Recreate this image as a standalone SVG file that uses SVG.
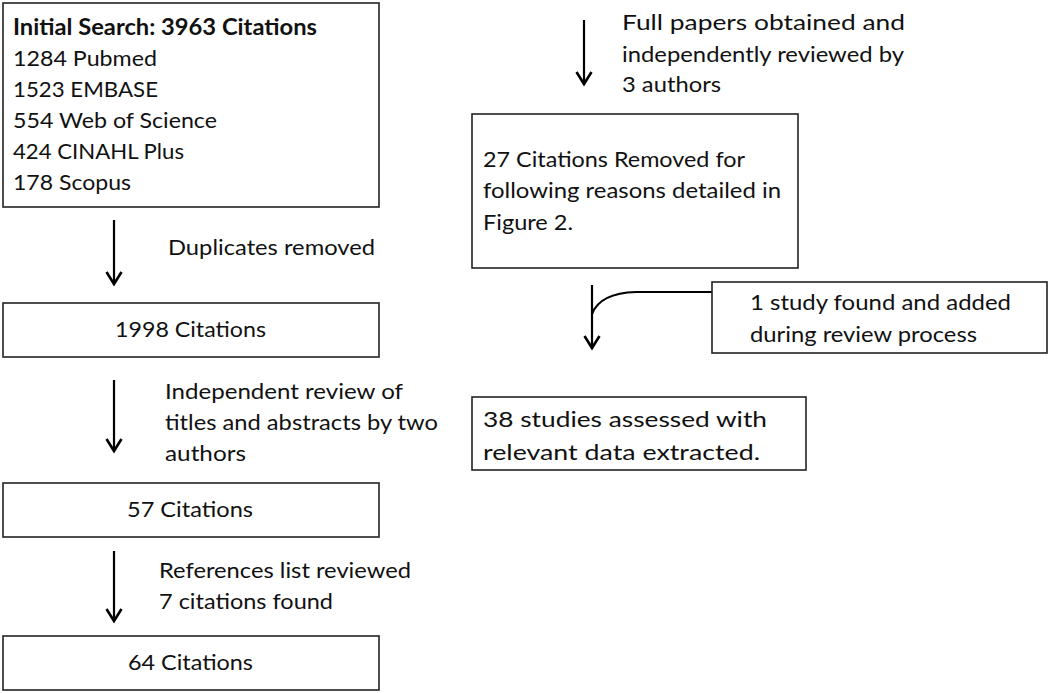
<svg xmlns="http://www.w3.org/2000/svg" width="1050" height="693" viewBox="0 0 1050 693">
<style>
.box{fill:#fff;stroke:#222;stroke-width:1.6}
.t{font-family:Lato,"Open Sans",sans-serif;font-size:22px;fill:#111}
.b{font-weight:bold}
.ln{fill:none;stroke:#000;stroke-width:2.2}
</style>
<defs>
<marker id="a2" markerUnits="userSpaceOnUse" markerWidth="20" markerHeight="20" refX="14" refY="10" orient="auto" viewBox="0 0 20 20">
<path d="M2,2.5 L14,10 L2,17.5" fill="none" stroke="#000" stroke-width="2.6"/>
</marker>
</defs>
<rect width="1050" height="693" fill="#fff"/>
<g id="connectors">
<line class="ln" x1="114" y1="220" x2="114" y2="284" marker-end="url(#a2)"/>
<line class="ln" x1="114" y1="380" x2="114" y2="451" marker-end="url(#a2)"/>
<line class="ln" x1="114" y1="551" x2="114" y2="621" marker-end="url(#a2)"/>
<line class="ln" x1="584" y1="20" x2="584" y2="84" marker-end="url(#a2)"/>
<line class="ln" x1="592" y1="285" x2="592" y2="348" marker-end="url(#a2)"/>
<path class="ln" d="M712,292 L636,292 Q600,293 592,314"/>
</g>
<g id="n1">
<rect class="box" x="3" y="3" width="376" height="204"/>
<text class="t b" x="13" y="35" textLength="304" lengthAdjust="spacingAndGlyphs">Initial Search: 3963 Citations</text>
<text class="t" x="13" y="66" textLength="144" lengthAdjust="spacingAndGlyphs">1284 Pubmed</text>
<text class="t" x="13" y="97" textLength="145" lengthAdjust="spacingAndGlyphs">1523 EMBASE</text>
<text class="t" x="13" y="128" textLength="204" lengthAdjust="spacingAndGlyphs">554 Web of Science</text>
<text class="t" x="13" y="159" textLength="171" lengthAdjust="spacingAndGlyphs">424 CINAHL Plus</text>
<text class="t" x="13" y="190" textLength="118" lengthAdjust="spacingAndGlyphs">178 Scopus</text>
</g>
<g id="l1"><text class="t" x="168" y="255" textLength="207" lengthAdjust="spacingAndGlyphs">Duplicates removed</text></g>
<g id="n2">
<rect class="box" x="3" y="303" width="376" height="54"/>
<text class="t" x="115" y="337" textLength="151" lengthAdjust="spacingAndGlyphs">1998 Citations</text>
</g>
<g id="l2">
<text class="t" x="165" y="399" textLength="238" lengthAdjust="spacingAndGlyphs">Independent review of</text>
<text class="t" x="165" y="430" textLength="273" lengthAdjust="spacingAndGlyphs">titles and abstracts by two</text>
<text class="t" x="165" y="461" textLength="81" lengthAdjust="spacingAndGlyphs">authors</text>
</g>
<g id="n3">
<rect class="box" x="3" y="483" width="376" height="54"/>
<text class="t" x="127" y="517" textLength="126" lengthAdjust="spacingAndGlyphs">57 Citations</text>
</g>
<g id="l3">
<text class="t" x="159" y="578" textLength="252" lengthAdjust="spacingAndGlyphs">References list reviewed</text>
<text class="t" x="159" y="609" textLength="174" lengthAdjust="spacingAndGlyphs">7 citations found</text>
</g>
<g id="n4">
<rect class="box" x="3" y="636" width="376" height="54"/>
<text class="t" x="128" y="670" textLength="125" lengthAdjust="spacingAndGlyphs">64 Citations</text>
</g>
<g id="l4">
<text class="t" x="622" y="30" textLength="283" lengthAdjust="spacingAndGlyphs">Full papers obtained and</text>
<text class="t" x="622" y="62" textLength="282" lengthAdjust="spacingAndGlyphs">independently reviewed by</text>
<text class="t" x="622" y="92" textLength="99" lengthAdjust="spacingAndGlyphs">3 authors</text>
</g>
<g id="n5">
<rect class="box" x="472" y="114" width="326" height="154"/>
<text class="t" x="483" y="167" textLength="262" lengthAdjust="spacingAndGlyphs">27 Citations Removed for</text>
<text class="t" x="483" y="198" textLength="298" lengthAdjust="spacingAndGlyphs">following reasons detailed in</text>
<text class="t" x="483" y="230" textLength="90" lengthAdjust="spacingAndGlyphs">Figure 2.</text>
</g>
<g id="n6">
<rect class="box" x="712" y="282" width="335" height="71"/>
<text class="t" x="750" y="310" textLength="261" lengthAdjust="spacingAndGlyphs">1 study found and added</text>
<text class="t" x="750" y="342" textLength="227" lengthAdjust="spacingAndGlyphs">during review process</text>
</g>
<g id="n7">
<rect class="box" x="472" y="397" width="334" height="73"/>
<text class="t" x="483" y="427" textLength="284" lengthAdjust="spacingAndGlyphs">38 studies assessed with</text>
<text class="t" x="483" y="460" textLength="277" lengthAdjust="spacingAndGlyphs">relevant data extracted.</text>
</g>
</svg>
